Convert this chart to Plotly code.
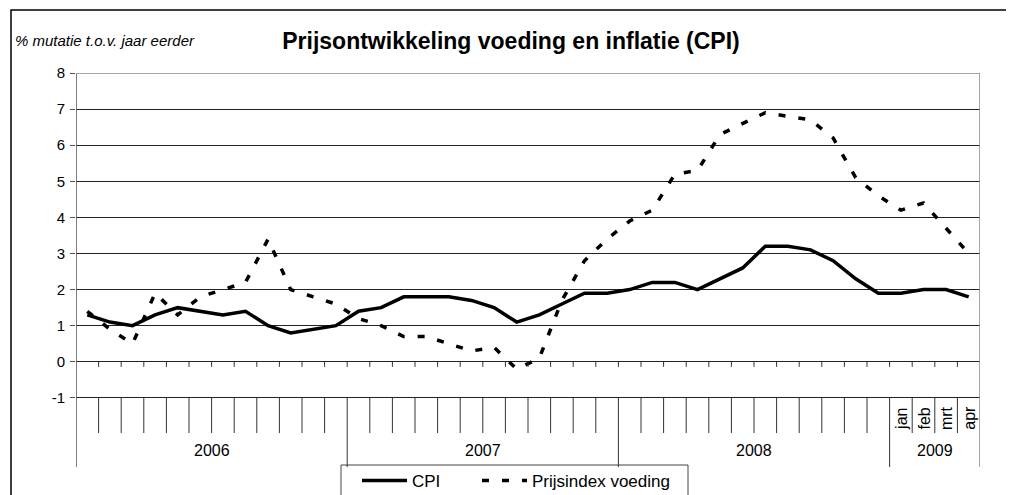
import plotly.graph_objects as go

# ---- data ----
years = ["2006", "2007", "2008", "2009"]
months_per_year = [12, 12, 12, 4]
month_labels_2009 = ["jan", "feb", "mrt", "apr"]

cpi = [1.3, 1.1, 1.0, 1.3, 1.5, 1.4, 1.3, 1.4, 1.0, 0.8, 0.9, 1.0,
       1.4, 1.5, 1.8, 1.8, 1.8, 1.7, 1.5, 1.1, 1.3, 1.6, 1.9, 1.9,
       2.0, 2.2, 2.2, 2.0, 2.3, 2.6, 3.2, 3.2, 3.1, 2.8, 2.3, 1.9,
       1.9, 2.0, 2.0, 1.8]
voeding = [1.4, 0.9, 0.5, 1.9, 1.3, 1.8, 2.0, 2.2, 3.4, 2.0, 1.8, 1.6,
           1.2, 1.0, 0.7, 0.7, 0.5, 0.3, 0.4, -0.2, 0.1, 1.7, 2.8, 3.4,
           3.9, 4.2, 5.2, 5.3, 6.3, 6.6, 6.9, 6.8, 6.7, 6.2, 5.1, 4.6,
           4.2, 4.4, 3.7, 3.0]
y_ticks = [-1, 0, 1, 2, 3, 4, 5, 6, 7, 8]
y_tick_labels = ["-1", "0", "1", "2", "3", "4", "5", "6", "7", "8"]

title_text = "Prijsontwikkeling voeding en inflatie (CPI)"
y_label = "% mutatie t.o.v. jaar eerder"
series_names = ["CPI", "Prijsindex voeding"]

FONT = "Liberation Sans, Arial, sans-serif"
n = len(cpi)
xs = list(range(n))

# ---- geometry (screen pixels; page body has an 8px margin) ----
OFF = 8
W, H = 1014 - OFF, 495 - OFF
SL, SR, ST, SB = 76, 980, 73, 495          # plot area on screen
Y_TOP = 8
PX_PER_UNIT = 36.1
Y_BOT = Y_TOP - (SB - ST) / PX_PER_UNIT   # value at bottom of plot area


def val(sy):
    """screen y -> data value"""
    return Y_TOP - (sy - ST) / PX_PER_UNIT


def px_x(sx):
    return (sx - SL) / (SR - SL)


def px_y(sy):
    return (SB - sy) / (SB - ST)


AXIS_BOTTOM = val(467)
SEP_BOTTOM = val(433)
TICK_BOTTOM = -0.14

fig = go.Figure()
fig.add_trace(go.Scatter(x=xs, y=cpi, mode="lines", name=series_names[0],
                         line=dict(color="black", width=3.5), legend="legend"))
fig.add_trace(go.Scatter(x=xs, y=voeding, mode="lines", name=series_names[1],
                         line=dict(color="black", width=3.5, dash="7px,13px"),
                         legend="legend2"))

shapes = []
line_col = "#333333"
# small ticks on the 0 line between categories
for k in range(1, n):
    shapes.append(dict(type="line", xref="x", yref="y", x0=k - 0.5, x1=k - 0.5,
                       y0=0, y1=TICK_BOTTOM, line=dict(color=line_col, width=1)))
# category label separators
bounds = []
acc = 0
for m in months_per_year:
    acc += m
    bounds.append(acc)
for k in range(1, n):
    y1 = AXIS_BOTTOM if k in bounds else SEP_BOTTOM
    shapes.append(dict(type="line", xref="x", yref="y", x0=k - 0.5, x1=k - 0.5,
                       y0=-1, y1=y1, line=dict(color=line_col, width=1)))
# y axis line
shapes.append(dict(type="line", xref="x", yref="y", x0=-0.5, x1=-0.5,
                   y0=Y_TOP, y1=AXIS_BOTTOM, line=dict(color="#555555", width=1.5)))
# right border of plot area + last separator
shapes.append(dict(type="line", xref="x", yref="y", x0=n - 0.5, x1=n - 0.5,
                   y0=Y_TOP, y1=AXIS_BOTTOM, line=dict(color="#888888", width=1.5)))
# top border of plot area
shapes.append(dict(type="line", xref="x", yref="y", x0=-0.5, x1=n - 0.5,
                   y0=Y_TOP, y1=Y_TOP, line=dict(color="#888888", width=1.5)))
# legend box (cut off at bottom)
shapes.append(dict(type="rect", xref="paper", yref="paper",
                   x0=px_x(341), x1=px_x(688), y0=px_y(520), y1=px_y(465),
                   line=dict(color="#444444", width=1), fillcolor="white",
                   layer="below"))
# outer chart border (cut off at right and bottom)
shapes.append(dict(type="rect", xref="paper", yref="paper",
                   x0=px_x(11), x1=px_x(1040), y0=px_y(530), y1=px_y(10),
                   line=dict(color="black", width=1.5), fillcolor="rgba(0,0,0,0)"))

annotations = []
# year labels
start = 0
for yr, m in zip(years, months_per_year):
    annotations.append(dict(x=start + (m - 1) / 2, y=val(450), xref="x", yref="y",
                            text=yr, showarrow=False,
                            font=dict(family=FONT, size=16, color="black")))
    start += m
# month labels 2009
first_2009 = sum(months_per_year[:-1])
for i, lab in enumerate(month_labels_2009):
    annotations.append(dict(x=first_2009 + i, y=val(432), xref="x", yref="y",
                            text=lab, showarrow=False, textangle=-90,
                            yanchor="bottom",
                            font=dict(family=FONT, size=16, color="black")))
# y label
annotations.append(dict(x=px_x(13), y=px_y(40), xref="paper", yref="paper",
                        text=y_label, showarrow=False, xanchor="left",
                        yanchor="middle",
                        font=dict(family=FONT, size=15, color="black",
                                  style="italic")))

legend_common = dict(orientation="h", xanchor="left", yanchor="top",
                     borderwidth=0, bgcolor="rgba(0,0,0,0)",
                     font=dict(family=FONT, size=17, color="black"),
                     itemwidth=45)

fig.update_layout(
    width=W, height=H,
    margin=dict(l=SL - OFF, r=W - (SR - OFF), t=ST - OFF, b=0, autoexpand=False),
    paper_bgcolor="white", plot_bgcolor="white",
    title=dict(text="<b>" + title_text + "</b>", x=(511 - OFF) / W, xanchor="center",
               y=1 - (41 - OFF) / H, yanchor="middle",
               font=dict(family=FONT, size=23, color="black")),
    showlegend=True,
    legend=dict(x=px_x(357), y=px_y(463), **legend_common),
    legend2=dict(x=px_x(477), y=px_y(463), **legend_common),
    xaxis=dict(range=[-0.5, n - 0.5], showgrid=False, zeroline=False,
               showticklabels=False, ticks="", showline=False,
               fixedrange=True),
    yaxis=dict(range=[Y_BOT, Y_TOP], tickvals=y_ticks, ticktext=y_tick_labels,
               showgrid=True, gridcolor="#222222", gridwidth=1,
               zeroline=False, showline=False,
               ticks="outside", ticklen=5, tickcolor="#555555",
               ticklabelstandoff=2,
               tickfont=dict(family=FONT, size=15, color="black"),
               fixedrange=True),
    shapes=shapes,
    annotations=annotations,
)

fig.write_html("out.html")
